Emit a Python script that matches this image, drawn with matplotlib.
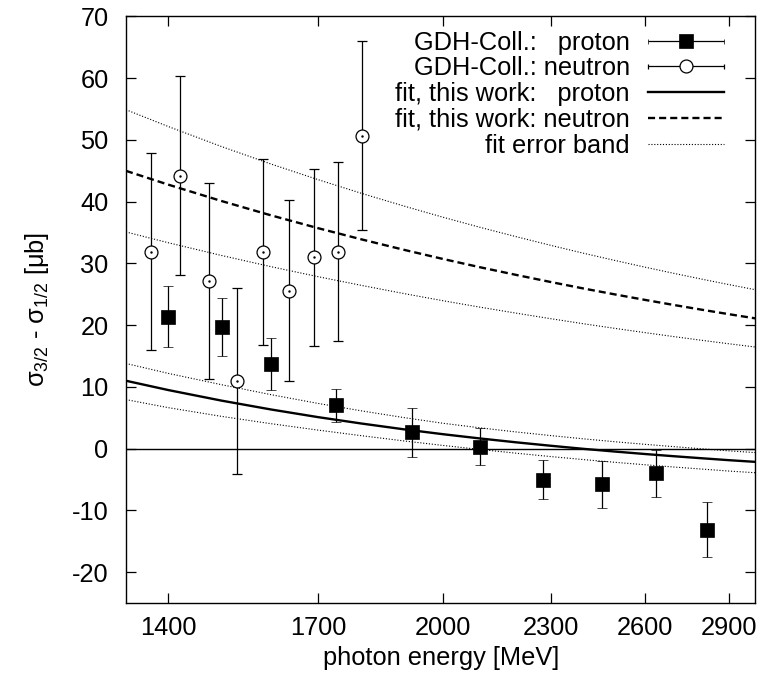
import numpy as np
import matplotlib
matplotlib.use("Agg")
import matplotlib.pyplot as plt
from matplotlib.ticker import FixedLocator, NullLocator, FixedFormatter
from matplotlib.legend_handler import HandlerErrorbar
from matplotlib.container import ErrorbarContainer
from matplotlib.lines import Line2D

plt.rcParams["font.family"] = ["Liberation Sans", "DejaVu Sans"]
plt.rcParams["mathtext.fontset"] = "custom"
plt.rcParams["mathtext.rm"] = "Liberation Sans"
plt.rcParams["mathtext.it"] = "Liberation Sans:italic"
plt.rcParams["mathtext.default"] = "regular"
plt.rcParams["axes.unicode_minus"] = False

# GDH-Collaboration measurements (photon energy in MeV, sigma_3/2 - sigma_1/2 in microbarn)
proton_E = [1400, 1501, 1600, 1740, 1920, 2099, 2278, 2459, 2636, 2817]
proton_sig = [21.4, 19.7, 13.7, 7.0, 2.65, 0.3, -5.0, -5.8, -3.95, -13.1]
proton_err = [5.0, 4.7, 4.25, 2.65, 4.0, 3.0, 3.15, 3.85, 3.8, 4.5]

neutron_E = [1368, 1421, 1476, 1530, 1583, 1637, 1691, 1744, 1800]
neutron_sig = [31.9, 44.2, 27.2, 11.0, 31.9, 25.6, 31.0, 31.9, 50.7]
neutron_err = [16.0, 16.1, 15.9, 15.1, 15.05, 14.65, 14.3, 14.45, 15.35]

# Fit curves and their error bands, tabulated on an energy grid
fit_E = [1325, 1400, 1500, 1600, 1700, 1800, 1900, 2000, 2100, 2200,
         2300, 2400, 2500, 2600, 2700, 2800, 2900, 3000]
fit_proton = [11.00, 9.49, 7.78, 6.34, 5.11, 4.06, 3.14, 2.34, 1.64, 1.02,
              0.47, -0.03, -0.47, -0.87, -1.23, -1.56, -1.87, -2.14]
fit_proton_hi = [13.80, 12.19, 10.36, 8.74, 7.33, 6.11, 5.04, 4.11, 3.36, 2.70,
                 2.12, 1.59, 1.12, 0.70, 0.32, -0.03, -0.36, -0.64]
fit_proton_lo = [7.95, 6.64, 5.23, 4.04, 3.01, 2.09, 1.26, 0.52, -0.14, -0.74,
                 -1.28, -1.77, -2.21, -2.61, -2.98, -3.31, -3.63, -3.90]
fit_neutron = [45.00, 42.76, 40.11, 37.78, 35.72, 33.88, 32.22, 30.72, 29.36, 28.13,
               26.99, 25.94, 24.98, 24.09, 23.26, 22.49, 21.77, 21.10]
fit_neutron_hi = [54.90, 52.17, 48.93, 46.09, 43.58, 41.33, 39.31, 37.48, 35.82, 34.32,
                  32.93, 31.65, 30.48, 29.39, 28.38, 27.44, 26.56, 25.74]
fit_neutron_lo = [35.10, 33.35, 31.29, 29.47, 27.86, 26.43, 25.13, 23.96, 22.90, 21.94,
                  21.05, 20.23, 19.48, 18.79, 18.14, 17.54, 16.98, 16.46]

xtick_vals = [1400, 1700, 2000, 2300, 2600, 2900]
ytick_vals = [-20, -10, 0, 10, 20, 30, 40, 50, 60, 70]

legend_labels = ["GDH-Coll.:   proton", "GDH-Coll.: neutron",
                 "fit, this work:   proton", "fit, this work: neutron",
                 "fit error band"]

FS = 18.3
fig = plt.figure(figsize=(7.79, 6.84), dpi=100)
ax = fig.add_axes([0.1617, 0.1184, 0.8081, 0.8575])
ax.set_xscale("log")
ax.set_xlim(1325, 3000)
ax.set_ylim(-25, 70)

ax.axhline(0, color="k", lw=1.0, zorder=1)

band_style = dict(color="k", lw=0.8, linestyle=(0, (1, 1.6)), zorder=2)
ax.plot(fit_E, fit_proton_hi, **band_style)
ax.plot(fit_E, fit_proton_lo, **band_style)
ax.plot(fit_E, fit_neutron_hi, **band_style)
ax.plot(fit_E, fit_neutron_lo, **band_style)
ax.plot(fit_E, fit_proton, color="k", lw=1.7, zorder=2)
ax.plot(fit_E, fit_neutron, color="k", lw=1.7, linestyle=(0, (3, 1.7)), zorder=2)

ax.errorbar(proton_E, proton_sig, yerr=proton_err, fmt="s", ms=9.5, mew=0.5,
            color="k", ecolor="k", elinewidth=0.9, capsize=3.8, capthick=0.9, zorder=4)
ax.errorbar(neutron_E, neutron_sig, yerr=neutron_err, fmt="o", ms=9.3, mfc="white",
            mec="k", mew=0.9, ecolor="k", elinewidth=0.9, capsize=3.8, capthick=0.9,
            zorder=4)
ax.plot(neutron_E, neutron_sig, ".", ms=1.5, color="k", zorder=5)

# legend proxies drawn with horizontal bars
h_p = ax.errorbar([np.nan], [np.nan], xerr=[1], fmt="s", ms=9.5, mew=0.5, color="k",
                  elinewidth=0.9, capsize=1.8, capthick=0.9)
h_n = ax.errorbar([np.nan], [np.nan], xerr=[1], fmt="o", ms=9.3, mfc="white", mec="k",
                  mew=0.9, color="k", elinewidth=0.9, capsize=1.8, capthick=0.9)
l_fp = Line2D([], [], color="k", lw=1.7)
l_fn = Line2D([], [], color="k", lw=1.7, linestyle=(0, (3, 1.7)))
l_band = Line2D([], [], color="k", lw=0.8, linestyle=(0, (1, 1.6)))

ax.legend([h_p, h_n, l_fp, l_fn, l_band], legend_labels, loc="upper right",
          bbox_to_anchor=(0.950, 0.976), borderaxespad=0, borderpad=0,
          frameon=False, markerfirst=False, handlelength=3.0, handletextpad=0.7,
          labelspacing=0.07, fontsize=FS,
          handler_map={ErrorbarContainer: HandlerErrorbar(xerr_size=1.5)})

ax.xaxis.set_major_locator(FixedLocator(xtick_vals))
ax.xaxis.set_minor_locator(NullLocator())
ax.xaxis.set_major_formatter(FixedFormatter([str(v) for v in xtick_vals]))
ax.set_yticks(ytick_vals)
ax.tick_params(which="both", direction="in", top=True, right=True,
               length=7.2, width=0.9, labelsize=FS)
ax.tick_params(axis="y", pad=12.5)
ax.tick_params(axis="x", pad=9)
for s in ax.spines.values():
    s.set_linewidth(1.0)

ax.set_xlabel("photon energy [MeV]", fontsize=FS)
ax.set_ylabel("σ$_{3/2}$ - σ$_{1/2}$ [μb]", fontsize=FS)
ax.xaxis.set_label_coords(0.5, -0.0725)
ax.yaxis.set_label_coords(-0.119, 0.5)

fig.savefig("out.png", dpi=100)
